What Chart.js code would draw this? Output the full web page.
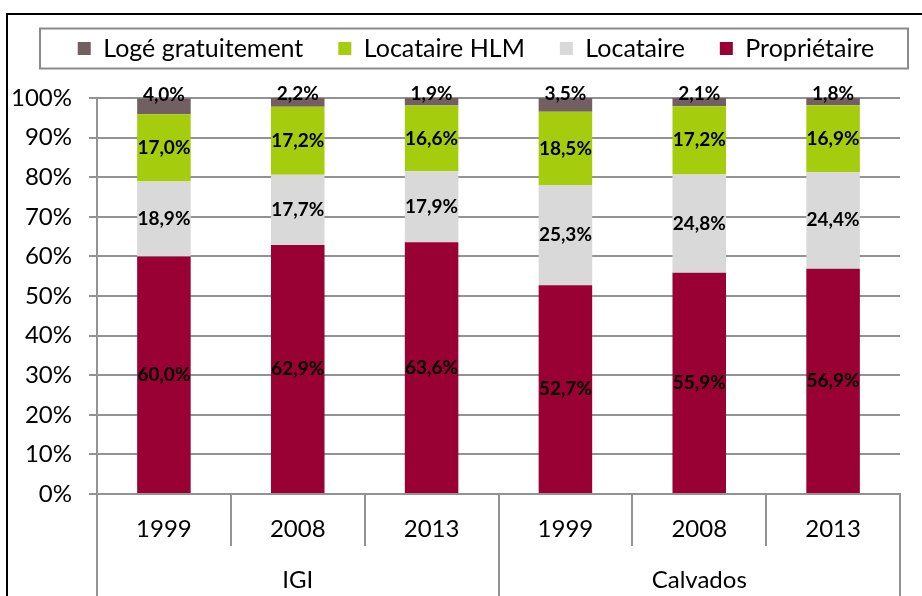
<!DOCTYPE html>
<html>
<head>
<meta charset="utf-8">
<script src="https://cdn.jsdelivr.net/npm/chart.js@4"></script>
<style>
  html, body { margin: 0; padding: 0; background: #fff; }
  #wrap { width: 922px; height: 596px; position: relative; }
</style>
</head>
<body>
<div id="wrap"><canvas id="chart"></canvas></div>
<script>
// Données du graphique (statut d'occupation, en %)
const annees = ['1999', '2008', '2013', '1999', '2008', '2013'];
const territoires = ['IGI', 'Calvados'];
const proprietaire = [60.0, 62.9, 63.6, 52.7, 55.9, 56.9];
const locataire = [18.9, 17.7, 17.9, 25.3, 24.8, 24.4];
const locataireHLM = [17.0, 17.2, 16.6, 18.5, 17.2, 16.9];
const logeGratuit = [4.0, 2.2, 1.9, 3.5, 2.1, 1.8];
const yMin = 0, yMax = 100, yPas = 10;

const GRIS = '#939393';
const POLICE = 'Lato, "Liberation Sans", sans-serif';

// Étiquettes de valeurs sur les barres
const etiquettes = {
    id: 'etiquettes',
    afterDatasetsDraw(chart) {
        const ctx = chart.ctx;
        ctx.save();
        ctx.font = 'bold 19px ' + POLICE;
        ctx.fillStyle = '#000';
        ctx.textAlign = 'center';
        ctx.textBaseline = 'middle';
        const dernier = chart.data.datasets.length - 1;
        chart.data.datasets.forEach((ds, i) => {
            const meta = chart.getDatasetMeta(i);
            meta.data.forEach((bar, j) => {
                const txt = ds.data[j].toFixed(1).replace('.', ',') + '%';
                const y = i === dernier ? bar.y - 4 : (bar.y + bar.base) / 2;
                ctx.fillText(txt, bar.x, y);
            });
        });
        ctx.restore();
    }
};

// Cadre du graphique et cadre de la légende
const cadres = {
    id: 'cadres',
    beforeInit(chart) {
        const legende = chart.legend;
        const fitOrig = legende.fit;
        legende.fit = function () {
            fitOrig.call(this);
            this.height = 97;
        };
        // légende un peu décalée vers la droite, comme dans Excel
        const drawOrig = legende.draw;
        legende.draw = function () {
            this.ctx.save();
            this.ctx.translate(22, 0);
            drawOrig.call(this);
            this.ctx.restore();
        };
    },
    afterDraw(chart) {
        const ctx = chart.ctx;
        ctx.save();
        ctx.lineWidth = 2;
        ctx.strokeStyle = '#000';
        ctx.strokeRect(7, 14, 930, 600);
        const hb = chart.legend.legendHitBoxes[0];
        if (hb) {
            const cy = hb.top + hb.height / 2;
            ctx.strokeStyle = '#8a8a8a';
            ctx.strokeRect(40, cy - 20, 868, 40);
        }
        ctx.restore();
    }
};

new Chart(document.getElementById('chart'), {
    type: 'bar',
    data: {
        labels: annees,
        datasets: [
            { label: 'Propriétaire', data: proprietaire, backgroundColor: '#990033' },
            { label: 'Locataire', data: locataire, backgroundColor: '#d9d9d9' },
            { label: 'Locataire HLM', data: locataireHLM, backgroundColor: '#a5cd0e' },
            { label: 'Logé gratuitement', data: logeGratuit, backgroundColor: '#725f62' }
        ]
    },
    options: {
        responsive: true,
        maintainAspectRatio: false,
        animation: false,
        barPercentage: 0.4,
        categoryPercentage: 1,
        layout: { padding: { top: 1, left: 8, right: 22, bottom: 0 } },
        plugins: {
            tooltip: { enabled: false },
            legend: {
                position: 'top',
                reverse: true,
                labels: {
                    color: '#000',
                    font: { family: POLICE, size: 25 },
                    boxWidth: 13,
                    boxHeight: 13,
                    padding: 35
                }
            }
        },
        scales: {
            x: {
                stacked: true,
                grid: { drawOnChartArea: false, offset: true, tickLength: 52, color: GRIS, lineWidth: 2 },
                border: { color: GRIS, width: 2 },
                ticks: { color: '#000', font: { family: POLICE, size: 24 }, padding: -31, maxRotation: 0 },
                afterFit(s) { s.height = 52; }
            },
            groupe: {
                type: 'category',
                labels: territoires,
                position: 'bottom',
                weight: 1,
                offset: true,
                grid: { drawOnChartArea: false, offset: true, tickLength: 50, color: GRIS, lineWidth: 2 },
                border: { display: false },
                ticks: { color: '#000', font: { family: POLICE, size: 24 }, padding: -30, maxRotation: 0 },
                afterFit(s) { s.height = 50; }
            },
            y: {
                stacked: true,
                min: yMin,
                max: yMax,
                grid: { color: GRIS, lineWidth: 2, tickLength: 8 },
                border: { color: GRIS, width: 2 },
                ticks: {
                    stepSize: yPas,
                    color: '#000',
                    font: { family: POLICE, size: 24 },
                    padding: 17,
                    callback: v => v + '%'
                },
                afterFit(s) { s.width = 89; }
            }
        }
    },
    plugins: [etiquettes, cadres]
});
</script>
</body>
</html>
